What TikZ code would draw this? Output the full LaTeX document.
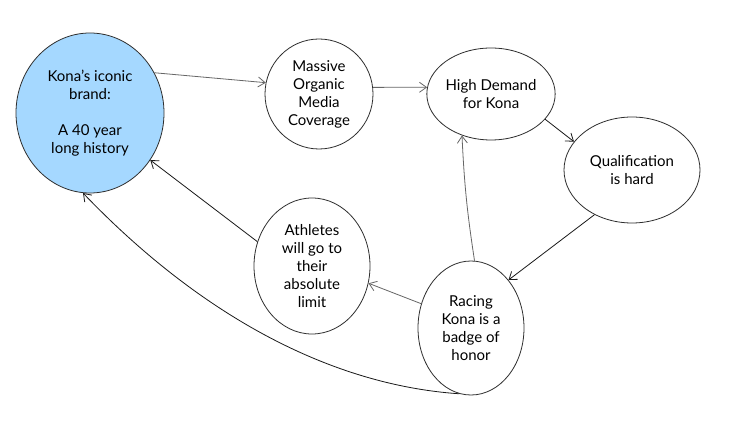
\documentclass[tikz,border=0pt]{standalone}
\usepackage{fontspec}
\setmainfont{Lato}
\usetikzlibrary{shapes.geometric,arrows.meta}
\definecolor{konablue}{HTML}{A5D8FF}
\definecolor{rim}{HTML}{2E2E2E}
\tikzset{
  bubble/.style={ellipse, draw=rim, line width=0.8pt, inner sep=0pt, align=center,
    font=\fontsize{15pt}{18pt}\selectfont, text=black},
  link/.style={line width=0.8pt, -{Straight Barb[length=7pt,width=10pt]}},
  soft/.style={link, draw=black!60},
  hard/.style={link, draw=black!90},
}
\begin{document}
\begin{tikzpicture}[x=1pt,y=-1pt]
\useasboundingbox[fill=white] (0,0) rectangle (730,427);
\node[bubble, fill=konablue, minimum width=148pt, minimum height=160pt] (kona) at (90,113)
  {Kona's iconic\\brand:\\~\\A 40 year\\long history};
\node[bubble, minimum width=108pt, minimum height=110pt] (mass) at (319,94)
  {Massive\\Organic\\Media\\Coverage};
\node[bubble, minimum width=110pt, minimum height=92pt] (demand) at (491,94)
  {High Demand\\for Kona};
\node[bubble, minimum width=136pt, minimum height=106pt] (qual) at (632,170)
  {Qualification\\is hard};
\node[bubble, minimum width=116pt, minimum height=136pt] (ath) at (312,266)
  {Athletes\\will go to\\their\\absolute\\limit};
\node[bubble, minimum width=106pt, minimum height=134pt] (race) at (471,328)
  {Racing\\Kona is a\\badge of\\honor};
\draw[soft] (kona.32) -- (mass.168);
\draw[soft] (mass.7) -- (demand.174);
\draw[hard] (demand.-25) -- (qual.154);
\draw[hard] (qual.230) -- (race.52);
\draw[soft] (race.87) to[bend left=3] (demand.235);
\draw[soft] (race.154) -- (ath.-17);
\draw[hard] (ath.156) -- (kona.-38);
\draw[hard] (race.260) .. controls (330,385) and (200,315) .. (kona.265);
\end{tikzpicture}
\end{document}
